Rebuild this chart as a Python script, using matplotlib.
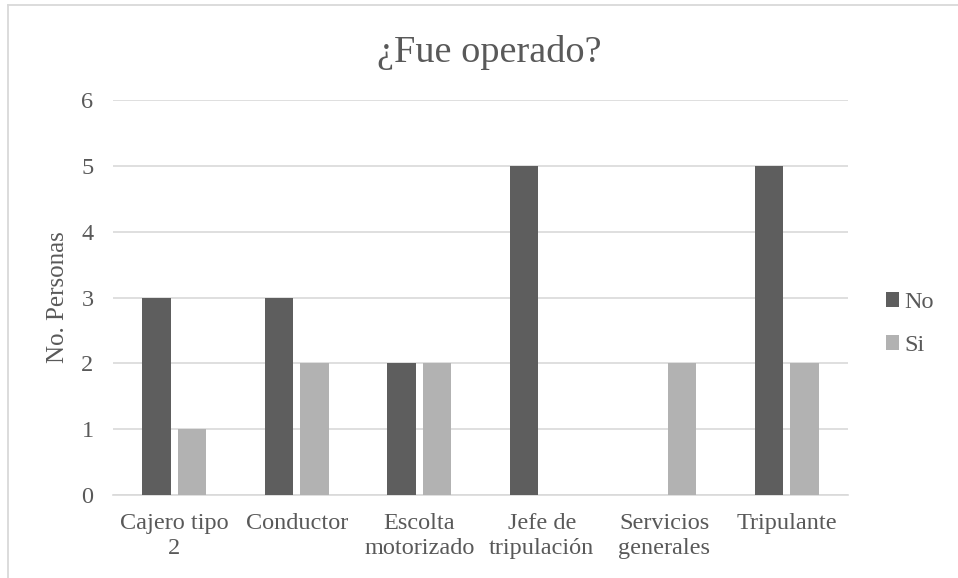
import numpy as np
import matplotlib.pyplot as plt

categories = ['Cajero tipo\n2', 'Conductor', 'Escolta\nmotorizado',
              'Jefe de\ntripulación', 'Servicios\ngenerales', 'Tripulante']
no_vals = [3, 3, 2, 5, 0, 5]
si_vals = [1, 2, 2, 0, 2, 2]

plt.rcParams['font.family'] = ['Liberation Serif', 'DejaVu Serif']
txt = '#595959'

fig = plt.figure(figsize=(9.58, 5.78), dpi=100)
ax = fig.add_axes([113/958, 1-495/578, (848-113)/958, (495-100)/578])

x = np.arange(len(categories))
w = 0.23
ax.bar(x - 0.145, no_vals, w, color='#5e5e5e', label='No', zorder=3)
ax.bar(x + 0.145, si_vals, w, color='#b2b2b2', label='Si', zorder=3)

ax.set_xlim(-0.5, len(categories) - 0.5)
ax.set_ylim(0, 6)
ax.set_yticks(range(0, 7))
ax.yaxis.grid(True, color='#d9d9d9', linewidth=1.2, zorder=0)
ax.set_xticks(x)
ax.set_xticklabels(categories, fontsize=17.5, color=txt, linespacing=1.25)
ax.tick_params(axis='y', labelsize=17.5, labelcolor=txt, length=0, pad=14)
ax.tick_params(axis='x', length=0, pad=13)
for s in ['top', 'right', 'left']:
    ax.spines[s].set_visible(False)
ax.spines['bottom'].set_color('#d9d9d9')
ax.spines['bottom'].set_linewidth(1.2)

ax.set_ylabel('No. Personas', fontsize=18, color=txt, labelpad=9)
fig.text(489/958, 1-62/578, '¿Fue operado?', fontsize=27.5, color=txt,
         ha='center', va='baseline')

leg = fig.legend(loc='center left', bbox_to_anchor=(886/958, 1-324/578), frameon=False,
                 fontsize=17.5, handlelength=0.55, handleheight=0.55,
                 handletextpad=0.2, labelspacing=0.9, labelcolor=txt,
                 borderpad=0, borderaxespad=0)

# chart border (only top and left edges are visible in the crop)
fig.add_artist(plt.Line2D([8/958, 8/958], [0, 1-5/578], color='#d9d9d9', linewidth=1.3,
                          transform=fig.transFigure))
fig.add_artist(plt.Line2D([8/958, 1], [1-5/578, 1-5/578], color='#d9d9d9', linewidth=1.3,
                          transform=fig.transFigure))

fig.savefig('out.png', dpi=100)
